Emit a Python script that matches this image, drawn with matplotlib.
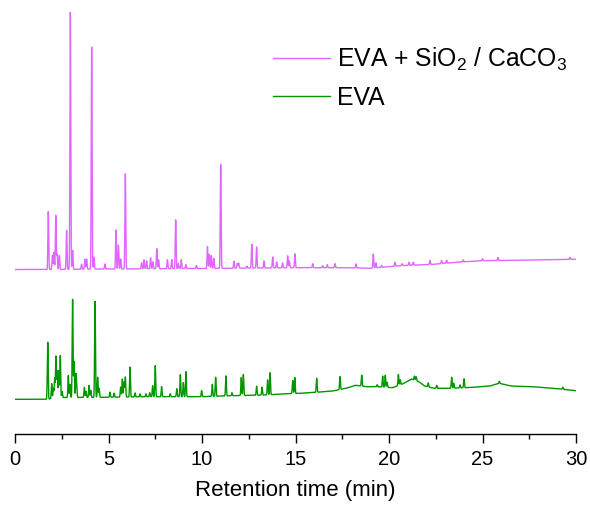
import numpy as np
import matplotlib
matplotlib.use("Agg")
import matplotlib.pyplot as plt
from matplotlib.ticker import MultipleLocator

plt.rcParams['font.family'] = ['Liberation Sans', 'DejaVu Sans']
plt.rcParams['mathtext.fontset'] = 'custom'
plt.rcParams['mathtext.rm'] = 'Liberation Sans'
plt.rcParams['mathtext.default'] = 'regular'

# ── Data (arbitrary intensity units) ──────────────────────────────────────────
# EVA + SiO2 / CaCO3 (upper trace)
sio2_base_t = [0, 1.7, 5, 10, 15.24, 17.9, 19.0, 20.6, 22.4, 23.8, 25.0, 27.7, 30]
sio2_base_y = [164.5, 164.5, 165, 165.5, 166.3, 166.3, 165.7, 168.3, 169.7, 172, 173.3, 174, 174.7]
sio2_peak_t = [1.78, 2.0, 2.08, 2.18, 2.25, 2.37, 2.76, 2.96, 3.08, 3.56, 3.74, 3.83,
               4.10, 4.22, 4.81, 5.40, 5.53, 5.65, 5.90, 6.77, 6.90, 7.04, 7.25, 7.37,
               7.58, 7.68, 8.15, 8.38, 8.59, 8.73, 8.89, 9.14, 9.7, 10.29, 10.39, 10.50,
               10.63, 11.0, 11.71, 11.89, 11.96, 12.4, 12.66, 12.92, 13.32, 13.78, 13.99,
               14.31, 14.58, 14.67, 14.97, 15.92, 16.45, 16.70, 17.11, 18.24, 19.16, 19.30,
               19.6, 20.32, 20.7, 21.07, 21.3, 22.19, 22.81, 23.08, 23.97, 25.0, 25.83, 29.68]
sio2_peak_h = [58, 14, 17, 54, 15, 14, 39, 257, 19, 5, 10, 10,
               222, 12, 5, 39, 24, 10, 95, 6, 9, 8, 11, 7,
               20, 9, 9, 9, 49, 5, 9, 4, 3, 22, 14, 13,
               10, 104, 7, 5, 5, 2, 24, 21, 7, 11, 6,
               5, 12, 7, 14, 4, 2, 3, 4, 4, 14, 5,
               2, 4, 2, 3, 3, 4, 3, 3, 2, 2, 3, 2]

# EVA (lower trace)
eva_base_t = [0, 1.66, 2.5, 4.7, 7.2, 9.9, 11.6, 13.4, 14.5, 15.24, 16.1, 17.0, 17.7,
              18.2, 18.8, 19.3, 20.2, 20.8, 21.2, 21.6, 21.9, 22.4, 23.3, 24.5, 25.4,
              25.9, 26.5, 27.7, 28.8, 30]
eva_base_y = [34.7, 34.7, 36.5, 36.7, 37.3, 37.3, 38.3, 39, 40.3, 40.7, 41.7, 43, 45.7,
              48.7, 47.3, 47.3, 46.3, 50.7, 55, 52.3, 48, 45.7, 45.7, 46.7, 48,
              50.7, 48, 47.3, 45.7, 43.3]
eva_peak_t = [1.75, 1.96, 2.05, 2.12, 2.19, 2.26, 2.34, 2.42, 2.52, 2.85, 2.94, 3.08,
              3.16, 3.26, 3.3, 3.71, 3.8, 3.96, 4.05, 4.28, 4.42, 4.5, 5.08, 5.3,
              5.65, 5.74, 5.83, 5.90, 6.15, 6.42, 6.69, 7.0, 7.2, 7.36, 7.50, 7.84,
              8.3, 8.65, 8.84, 9.0, 9.14, 9.98, 10.55, 10.73, 11.28, 11.6, 12.10, 12.21,
              12.92, 13.21, 13.51, 13.64, 14.85, 14.96, 16.13, 17.38, 18.54, 19.37, 19.66,
              19.8, 19.9, 20.5, 20.6, 21.36, 21.45, 22.1, 22.55, 23.35, 23.46, 23.8,
              24.01, 25.9, 29.3]
eva_peak_h = [57, 15, 10, 20, 42, 27, 27, 42, 6, 22, 13, 98,
              36, 22, 9, 10, 6, 12, 7, 96, 20, 9, 5, 4,
              10, 18, 15, 20, 30, 4, 3, 3, 4, 11, 31, 10,
              3, 8, 22, 14, 25, 6, 12, 19, 20, 3, 18, 21,
              9, 8, 15, 22, 13, 16, 14, 13, 11, 2, 11,
              12, 5, 11, 5, 4, 4, 4, 3, 11, 5, 3,
              9, 2, 2]

labels = ['EVA + SiO$_2$ / CaCO$_3$', 'EVA']
colors = ['#E066FF', '#009600']

# ── Build traces: baseline + narrow peaks ─────────────────────────────────────
t = np.arange(0, 30.0001, 0.004)

def trace(base_t, base_y, peak_t, peak_h, width=0.022):
    y = np.interp(t, base_t, base_y)
    for pt, ph in zip(peak_t, peak_h):
        y += ph * np.exp(-0.5 * ((t - pt) / width) ** 2)
    return y

y_sio2 = trace(sio2_base_t, sio2_base_y, sio2_peak_t, sio2_peak_h)
y_eva = trace(eva_base_t, eva_base_y, eva_peak_t, eva_peak_h)

# ── Plot ──────────────────────────────────────────────────────────────────────
fig = plt.figure(figsize=(5.9, 5.08), dpi=100)
ax = fig.add_axes([15 / 590, 1 - 434 / 508, 561 / 590, 424 / 508])

ax.plot(t, y_sio2, color=colors[0], lw=1.0, label=labels[0])
ax.plot(t, y_eva, color=colors[1], lw=1.0, label=labels[1])

ax.set_xlim(0, 30)
ax.set_ylim(0, 424)
ax.xaxis.set_major_locator(MultipleLocator(5))
ax.xaxis.set_minor_locator(MultipleLocator(2.5))
ax.tick_params(axis='x', which='major', direction='out', length=6.5, width=1, labelsize=14.5, pad=5)
ax.tick_params(axis='x', which='minor', direction='out', length=3.5, width=1)
ax.set_yticks([])
for s in ['left', 'right', 'top']:
    ax.spines[s].set_visible(False)
ax.spines['bottom'].set_linewidth(1)

ax.set_xlabel('Retention time (min)', fontsize=16, labelpad=8)

ax.legend(loc='upper left', bbox_to_anchor=(0.46, 0.915), frameon=False, borderpad=0,
          borderaxespad=0, fontsize=17.8, handlelength=2.3, handletextpad=0.3,
          labelspacing=0.5)

fig.savefig('out.png', dpi=100)
